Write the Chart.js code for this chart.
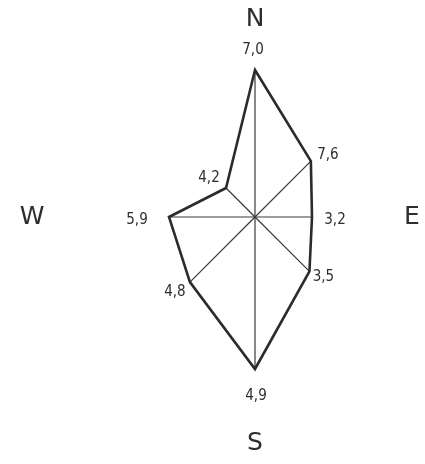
<!DOCTYPE html>
<html>
<head>
<meta charset="utf-8">
<script src="https://cdn.jsdelivr.net/npm/chart.js@4/dist/chart.umd.min.js"></script>
<style>
  html, body { margin: 0; padding: 0; background: #fff; }
  #wrap { width: 425px; height: 464px; }
</style>
</head>
<body>
<div id="wrap"><canvas id="rose"></canvas></div>
<script>
// Windrose: 8 Richtungen
const directions = ['N', 'NE', 'E', 'SE', 'S', 'SW', 'W', 'NW'];
// Armlaenge der Rose wie gezeichnet (Einheiten der Skala)
const armLength = [14.7, 7.9, 5.7, 7.7, 15.2, 9.2, 8.6, 4.1];
// Beschriftung an den Spitzen
const freqLabels = ['7,0', '7,6', '3,2', '3,5', '4,9', '4,8', '5,9', '4,2'];
// Himmelsrichtungen aussen
const compass = ['N', '', 'E', '', 'S', '', 'W', ''];

const ink = '#2b2b2b';

// offsets of the value labels from each vertex
const labelOffset = [[-2, -20], [17, -6], [23, 3], [14, 6], [1, 27], [-15, 10], [-32, 3], [-17, -10]];
// distance of the compass letters from the centre (px)
const compassDist = [198, 0, 157, 0, 226, 0, 223, 0];

const rosePlugin = {
  id: 'rose',
  beforeDatasetsDraw(chart) {
    const c = chart.ctx;
    const r = chart.scales.r;
    const pts = chart.getDatasetMeta(0).data;
    c.save();
    c.strokeStyle = '#3a3a3a';
    c.lineWidth = 1.2;
    pts.forEach(p => {
      c.beginPath();
      c.moveTo(r.xCenter, r.yCenter);
      c.lineTo(p.x, p.y);
      c.stroke();
    });
    c.restore();
  },
  afterDatasetsDraw(chart) {
    const c = chart.ctx;
    const r = chart.scales.r;
    const pts = chart.getDatasetMeta(0).data;
    c.save();
    c.fillStyle = '#2e2e2e';
    c.textAlign = 'center';
    c.textBaseline = 'middle';
    c.font = '15px "DejaVu Sans Condensed", "DejaVu Sans", sans-serif';
    pts.forEach((p, i) => {
      c.fillText(freqLabels[i], p.x + labelOffset[i][0], p.y + labelOffset[i][1]);
    });
    c.font = '25px "DejaVu Sans", sans-serif';
    compass.forEach((t, i) => {
      if (!t) return;
      const pos = r.getPointPosition(i, compassDist[i]);
      c.fillText(t, pos.x, pos.y);
    });
    c.restore();
  }
};

new Chart(document.getElementById('rose'), {
  type: 'radar',
  data: {
    labels: directions,
    datasets: [{
      data: armLength,
      borderColor: ink,
      borderWidth: 2.6,
      fill: false,
      pointRadius: 0,
      pointHoverRadius: 0,
      tension: 0
    }]
  },
  options: {
    responsive: true,
    maintainAspectRatio: false,
    animation: false,
    layout: { padding: { left: 95, right: 10, top: 10, bottom: 39 } },
    plugins: {
      legend: { display: false },
      tooltip: { enabled: false }
    },
    scales: {
      r: {
        min: 0,
        max: 16,
        grid: { display: false },
        angleLines: { display: false },
        pointLabels: { display: false },
        ticks: { display: false }
      }
    }
  },
  plugins: [rosePlugin]
});
</script>
</body>
</html>
